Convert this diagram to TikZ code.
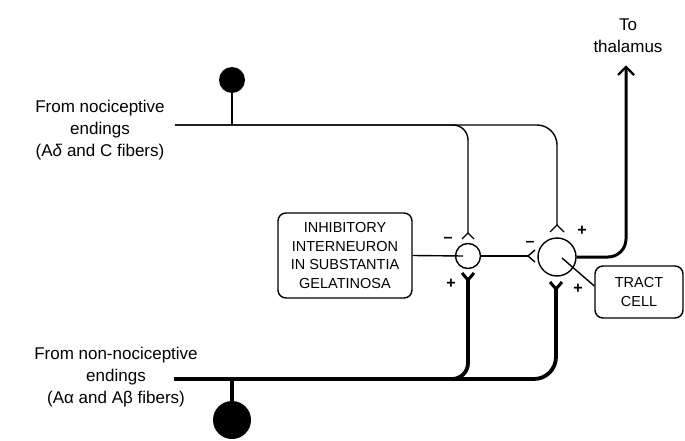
\documentclass[tikz,border=0pt]{standalone}
\usepackage{fontspec}
\setmainfont{Liberation Sans}
\usetikzlibrary{calc}
\begin{document}
\begin{tikzpicture}[x=1pt,y=-1pt,
  fibre/.style={line width=1.4pt},
  fatfibre/.style={line width=3.8pt},
  outfibre/.style={line width=3pt},
  lbl/.style={align=center, font=\fontsize{17}{22}\selectfont, inner sep=0pt},
  boxtxt/.style={draw, line width=1.4pt, rounded corners=8pt, align=center, font=\fontsize{14.5}{18.5}\selectfont, inner sep=0pt},
  cell/.style={circle, draw, line width=1.4pt, inner sep=0pt},
  soma/.style={circle, fill=black, inner sep=0pt},
  sign/.style={font=\fontsize{16}{16}\selectfont\bfseries, inner sep=0pt}
]
\useasboundingbox (0,0) rectangle (685,441);
\fill[white] (0,0) rectangle (685,441);

% labels
\node[lbl] (nocitext) at (100,130) {From nociceptive\\endings\\(A\textit{δ} and C fibers)};
\node[lbl] (nontext) at (116,377) {From non-nociceptive\\endings\\(Aα and Aβ fibers)};
\node[lbl] (thaltext) at (628,36) {To\\thalamus};

% boxes
\node[boxtxt, minimum width=134pt, minimum height=85pt] (ibox) at (345,255.5)
  {INHIBITORY\\INTERNEURON\\IN SUBSTANTIA\\GELATINOSA};
\node[boxtxt, minimum width=88pt, minimum height=52pt] (tbox) at (639,292)
  {TRACT\\CELL};

% cells
\node[cell, minimum size=25pt] (ic) at (468,256) {};
\node[cell, minimum size=38pt] (tc) at (557,257) {};
\node[soma, minimum size=26pt] (nsoma) at (232,80) {};
\node[soma, minimum size=38pt] (nnsoma) at (232,420) {};

% coordinates
\coordinate (nstart) at (175,125);
\coordinate (nj) at (232,125);
\coordinate (nnstart) at (174,379);
\coordinate (nnj) at (232,379);
\coordinate (icTop) at (468,233);
\coordinate (tcTop) at (557,225);
\coordinate (tcLeft) at (528,256);
\coordinate (icBot) at (468,280);
\coordinate (tcBot) at (556,289);
\coordinate (thal) at (626,67);

% nociceptive fibre
\draw[fibre] (nsoma) -- (nj);
\draw[fibre, rounded corners=15pt] (nstart) -- (468,125) -- (icTop);
\draw[fibre, rounded corners=20pt] (nstart) -- (557,125) -- (tcTop);
\draw[fibre] ($(icTop)+(-6,6)$) -- (icTop) -- ($(icTop)+(6,6)$);
\draw[fibre] ($(tcTop)+(-7,7)$) -- (tcTop) -- ($(tcTop)+(7,7)$);

% non-nociceptive fibre
\draw[fatfibre] (nnsoma) -- (nnj);
\draw[fatfibre, rounded corners=16pt] (nnstart) -- (468,379) -- (icBot);
\draw[fatfibre, rounded corners=22pt] (nnstart) -- (556,379) -- (tcBot);
\draw[line width=3pt] ($(icBot)+(-6,-7)$) -- (icBot) -- ($(icBot)+(6,-7)$);
\draw[line width=3pt] ($(tcBot)+(-6,-7)$) -- (tcBot) -- ($(tcBot)+(6,-7)$);

% interneuron connections
\draw[fibre] (ibox.east) -- ([xshift=-5pt]ic.center);
\draw[fibre] (ic.east) -- (tcLeft);
\draw[fibre] ($(tcLeft)+(7,-6)$) -- (tcLeft) -- ($(tcLeft)+(7,6)$);

% tract cell
\draw[fibre] ([shift={(5pt,-1pt)}]tc.center) -- ([yshift=6pt]tbox.west);
\draw[outfibre, rounded corners=18pt] (tc.east) -- (626,257) -- (thal);
\draw[line width=2.4pt] ($(thal)+(-8,8)$) -- (thal) -- ($(thal)+(8,8)$);

% signs
\node[sign] (s1) at (448,240) {–};
\node[sign] (s2) at (530,244) {–};
\node[sign] (s3) at (582,231) {+};
\node[sign] (s4) at (451,284) {+};
\node[sign] (s5) at (578,289) {+};
\end{tikzpicture}
\end{document}
